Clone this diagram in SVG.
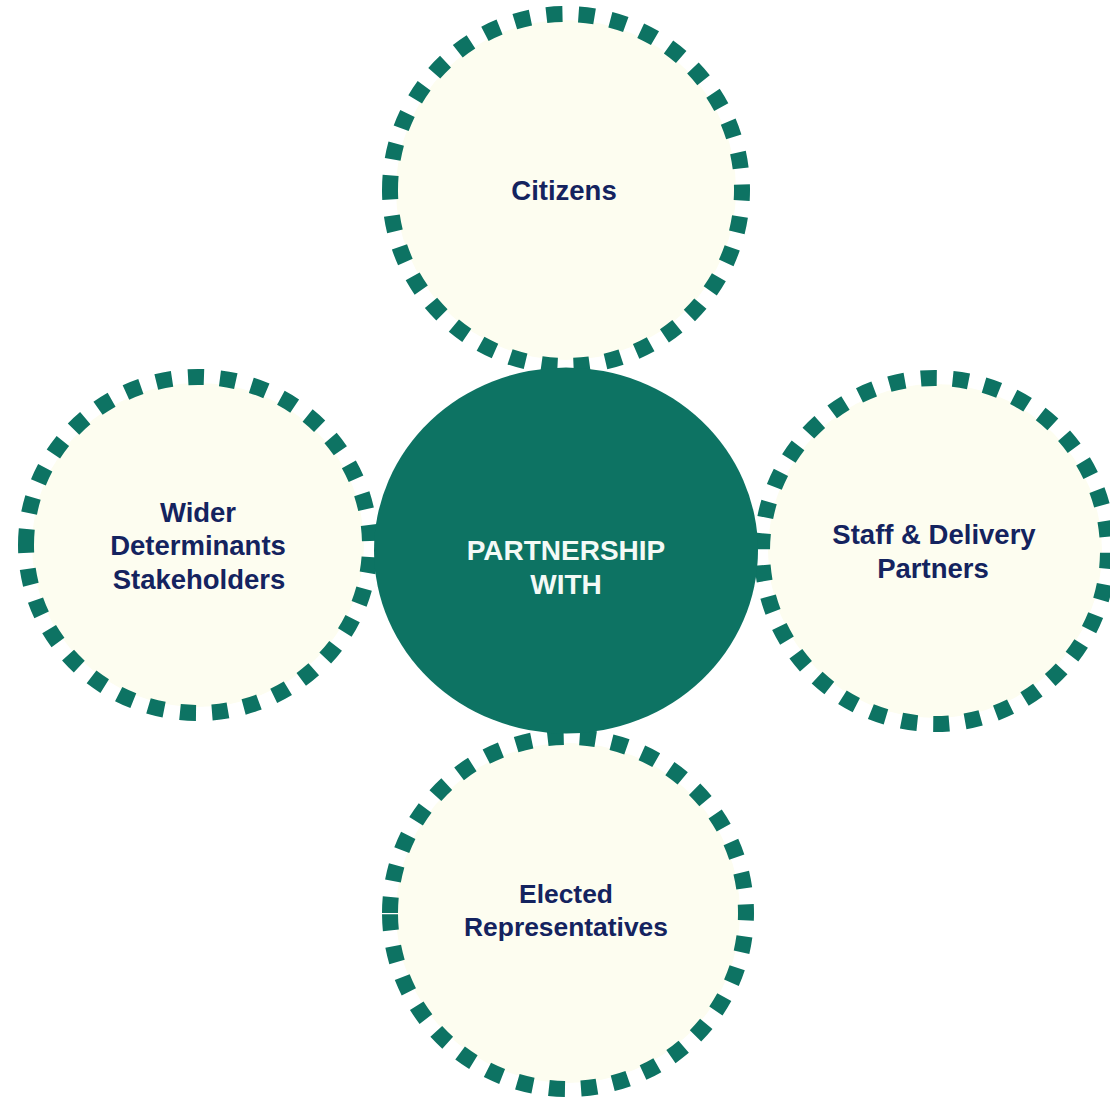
<svg xmlns="http://www.w3.org/2000/svg" width="1110" height="1098" viewBox="0 0 1110 1098">
<style>
.disc{fill:#fdfdf0}
.ring{fill:none;stroke:#0d7363;stroke-width:16;stroke-dasharray:.5 .5}
text{font-family:"Liberation Sans",Arial,sans-serif;font-weight:700;font-size:27.5px;fill:#14235f;text-anchor:middle}
.small{font-size:26.4px}
.light{fill:#f4faf6;font-size:28px}
</style>
<rect width="1110" height="1098" fill="#fff"/>
<g id="citizens"><circle class="disc" cx="566" cy="190" r="170"/><circle class="ring" pathLength="34.25" cx="566" cy="190" r="176" transform="rotate(179.5 566 190)"/><text x="564" y="200">Citizens</text></g>
<g id="wider"><ellipse class="disc" cx="198" cy="545" rx="166" ry="162"/><ellipse class="ring" pathLength="33.25" cx="198" cy="545" rx="172" ry="168" transform="rotate(180 198 545)"/><text x="198" y="522">Wider</text><text x="198" y="555">Determinants</text><text x="199" y="589">Stakeholders</text></g>
<g id="staff"><circle class="disc" cx="935" cy="551" r="167"/><circle class="ring" pathLength="34" cx="935" cy="551" r="173" transform="rotate(170 935 551)"/><text x="934" y="544">Staff &amp; Delivery</text><text x="933" y="578">Partners</text></g>
<g id="elected"><ellipse class="disc" cx="568" cy="913" rx="172" ry="170"/><ellipse class="ring" pathLength="34.54" cx="568" cy="913" rx="178" ry="176" transform="rotate(180 568 913)"/><text class="small" x="566" y="903">Elected</text><text class="small" x="566" y="936">Representatives</text></g>
<g id="centre"><ellipse cx="566" cy="550.5" rx="192" ry="183" fill="#0d7363"/><text class="light" x="566" y="560">PARTNERSHIP</text><text class="light" x="566" y="594">WITH</text></g>
</svg>
